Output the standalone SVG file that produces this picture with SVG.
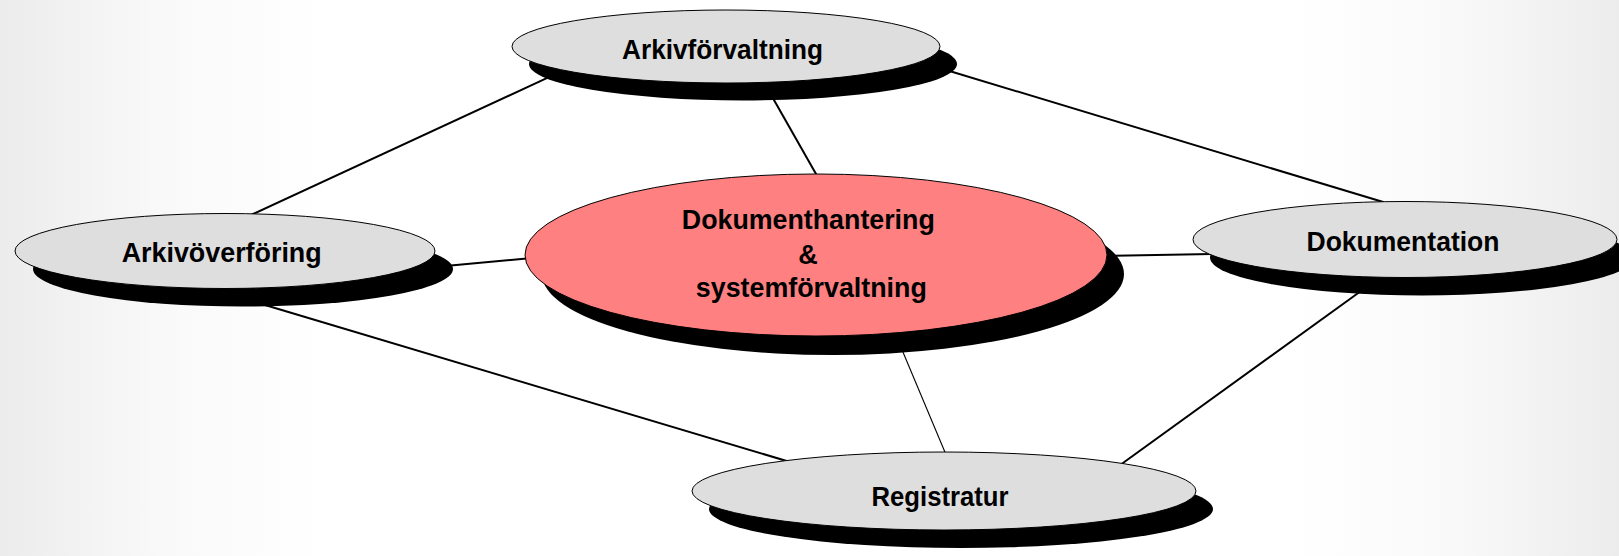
<svg xmlns="http://www.w3.org/2000/svg" width="1619" height="556" viewBox="0 0 1619 556">
  <defs>
    <linearGradient id="bg" x1="0" y1="0" x2="1" y2="0">
      <stop offset="0" stop-color="#ececec"/>
      <stop offset="0.1" stop-color="#f9f9f9"/>
      <stop offset="0.2" stop-color="#ffffff"/>
      <stop offset="0.8" stop-color="#ffffff"/>
      <stop offset="0.9" stop-color="#f9f9f9"/>
      <stop offset="1" stop-color="#ececec"/>
    </linearGradient>
  </defs>
  <style>
    .shadow { fill: #000000; }
    .node { fill: #dedede; stroke: #000000; stroke-width: 1; }
    .core { fill: #ff8080; stroke: #000000; stroke-width: 1; }
    .label { font-family: "Liberation Sans", Arial, sans-serif; font-weight: bold; font-size: 27px; fill: #000000; text-anchor: middle; }
    .link { stroke: #000000; stroke-width: 2; fill: none; }
    .thin { stroke-width: 1.1; }
  </style>

  <rect x="0" y="0" width="1619" height="556" fill="url(#bg)"/>

  <!-- connectors, drawn beneath the nodes -->
  <g id="connectors">
    <line class="link" x1="550" y1="76.6" x2="248" y2="216.4"/>
    <line class="link" x1="942" y1="68.7" x2="1384" y2="202.3"/>
    <line class="link" x1="770" y1="93" x2="820" y2="181"/>
    <line class="link" x1="440" y1="266.5" x2="532" y2="258"/>
    <line class="link" x1="1100" y1="256" x2="1212" y2="254"/>
    <line class="link" x1="265" y1="305" x2="795" y2="463.5"/>
    <line class="link thin" x1="900" y1="345" x2="947" y2="457"/>
    <line class="link" x1="1361" y1="291" x2="1116" y2="468"/>
  </g>

  <g id="arkivforvaltning">
    <ellipse class="shadow" cx="743" cy="64" rx="214" ry="36.5"/>
    <ellipse class="node" cx="726" cy="46.5" rx="214" ry="36.5"/>
    <text class="label" x="722.5" y="58.5" textLength="201" lengthAdjust="spacingAndGlyphs">Arkivförvaltning</text>
  </g>

  <g id="arkivoverforing">
    <ellipse class="shadow" cx="243" cy="269" rx="210" ry="37.5"/>
    <ellipse class="node" cx="225" cy="251" rx="210" ry="37.5"/>
    <text class="label" x="221.7" y="262" textLength="200" lengthAdjust="spacingAndGlyphs">Arkivöverföring</text>
  </g>

  <g id="dokumenthantering">
    <ellipse class="shadow" cx="833" cy="274" rx="291" ry="81"/>
    <ellipse class="core" cx="816" cy="255" rx="291" ry="81"/>
    <text class="label" x="808.3" y="228.5" textLength="253" lengthAdjust="spacingAndGlyphs">Dokumenthantering</text>
    <text class="label" x="808" y="264">&amp;</text>
    <text class="label" x="811.3" y="297" textLength="231" lengthAdjust="spacingAndGlyphs">systemförvaltning</text>
  </g>

  <g id="dokumentation">
    <ellipse class="shadow" cx="1422" cy="257.5" rx="212" ry="38"/>
    <ellipse class="node" cx="1405" cy="239.5" rx="212" ry="38"/>
    <text class="label" x="1403" y="251" textLength="193" lengthAdjust="spacingAndGlyphs">Dokumentation</text>
  </g>

  <g id="registratur">
    <ellipse class="shadow" cx="961" cy="509" rx="252" ry="39"/>
    <ellipse class="node" cx="944" cy="491" rx="252" ry="39"/>
    <text class="label" x="940" y="506" textLength="137" lengthAdjust="spacingAndGlyphs">Registratur</text>
  </g>
</svg>
